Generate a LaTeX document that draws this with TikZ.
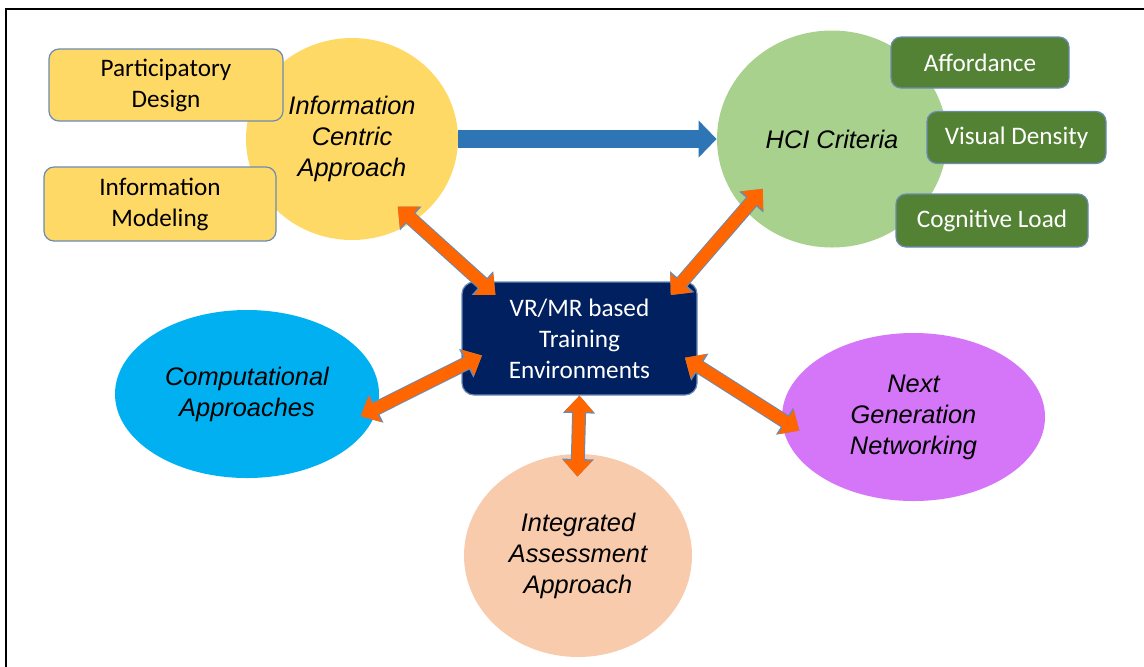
\documentclass[tikz,border=0pt]{standalone}
\usepackage{fontspec}
\setmainfont{Carlito}
\newfontfamily\arialfont{Liberation Sans}
\usepackage{tikz}
\usepackage{xcolor}
\usetikzlibrary{arrows.meta, shapes.geometric}
\definecolor{ideayellow}{HTML}{FFD966}
\definecolor{hcigreen}{HTML}{A9D18E}
\definecolor{critgreen}{HTML}{548235}
\definecolor{vrnavy}{HTML}{002060}
\definecolor{compblue}{HTML}{00B0F0}
\definecolor{netpurple}{HTML}{D476F7}
\definecolor{assesspeach}{HTML}{F8CBAD}
\definecolor{flowblue}{HTML}{2E75B6}
\definecolor{linkorange}{HTML}{FF6600}
\definecolor{boxedge}{HTML}{6A8BB3}

\begin{document}
\begin{tikzpicture}[
    x=0.5pt, y=-0.5pt,
    box/.style={rectangle, rounded corners=5pt, draw=boxedge, line width=0.6pt, align=center, inner sep=0pt, font=\fontsize{12.6}{15.5}\selectfont},
    critbox/.style={box, fill=critgreen, text=white},
    bubble/.style={ellipse, inner sep=0pt, align=center, font=\arialfont\itshape\fontsize{12.7}{15.5}\selectfont},
    flowarrow/.style={line width=9pt, draw=flowblue, -{Triangle[width=18pt,length=9pt]}},
    linkarrow/.style={line width=6pt, draw=linkorange, {Triangle[width=14pt,length=8pt]}-{Triangle[width=14pt,length=8pt]},
        preaction={draw=boxedge, line width=7pt, {Triangle[width=15.5pt,length=8.8pt]}-{Triangle[width=15.5pt,length=8.8pt]}}}
]
\useasboundingbox (0,0) rectangle (1144,666);
% frame
\draw[line width=1pt] (6,680) -- (6,9) -- (1160,9);
% upper bubbles and their boxes
\node[bubble, fill=ideayellow, minimum width=106pt, minimum height=101pt] (icentric) at (352,139) {Information\\Centric\\Approach};
\node[bubble, fill=hcigreen, minimum width=115pt, minimum height=108.5pt] (hci) at (832,139) {HCI Criteria};
\node[box, fill=ideayellow, minimum width=117pt, minimum height=36pt] (partdesign) at (166,85) {Participatory\\Design};
\node[box, fill=ideayellow, minimum width=116pt, minimum height=37pt] (infomodel) at (160,204) {Information\\Modeling};
\node[critbox, minimum width=89pt, minimum height=25.5pt] (afford) at (980,62.5) {Affordance};
\node[critbox, minimum width=89.5pt, minimum height=26pt] (visdens) at (1016.5,137.5) {Visual Density};
\node[critbox, minimum width=96pt, minimum height=26.5pt] (cogload) at (992,220.5) {Cognitive Load};
% lower bubbles
\node[bubble, fill=compblue, minimum width=132pt, minimum height=84pt] (comp) at (247,394) {Computational\\Approaches};
\node[bubble, fill=netpurple, minimum width=131.5pt, minimum height=84pt] (nextgen) at (913.5,417) {Next\\Generation\\Networking};
\node[bubble, fill=assesspeach, minimum width=114pt, minimum height=101.5pt] (integ) at (578,555.5) {Integrated\\Assessment\\Approach};
% centre
\node[box, fill=vrnavy, text=white, rounded corners=6pt, minimum width=117.5pt, minimum height=56.5pt] (vr) at (579.5,338.5) {VR/MR based\\Training\\Environments};
% connectors
\draw[flowarrow] (icentric.east) -- (hci.west);
\draw[linkarrow, shorten <=-11pt, shorten >=-10pt] (icentric.-53) -- (vr.150.6);
\draw[linkarrow, shorten <=-14pt, shorten >=-9pt] (hci.219.8) -- (vr.29.3);
\draw[linkarrow, shorten <=-9.5pt, shorten >=-11.5pt] (comp.-6.5) -- (vr.193.6);
\draw[linkarrow, shorten <=-7.5pt, shorten >=-10.5pt] (vr.-13.2) -- (nextgen.181.4);
\draw[linkarrow, shorten >=-11.5pt] (vr.south) -- (integ.north);
\end{tikzpicture}
\end{document}
